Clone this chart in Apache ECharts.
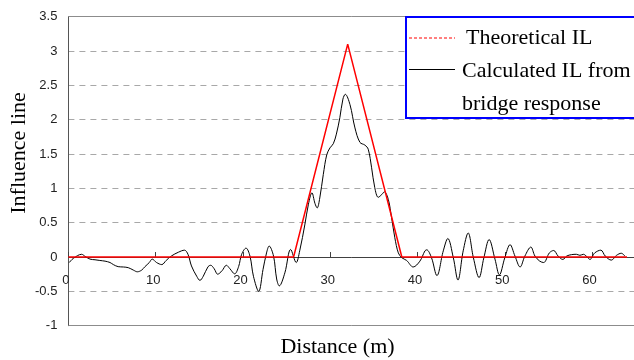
<!DOCTYPE html>
<html>
<head>
<meta charset="utf-8">
<script src="https://cdn.jsdelivr.net/npm/echarts@6/dist/echarts.min.js"></script>
<style>html,body{margin:0;padding:0;background:#fff;overflow:hidden;}#c{width:634px;height:360px;}</style>
</head>
<body>
<div id="c"></div>
<script>
// Theoretical influence line
const theoDistance = [0, 25.8, 32.0, 38.2, 64];
const theoIL = [0, 0, 3.1, 0, 0];

// Calculated influence line from bridge response
const calcDistance = [0.1, 0.56, 1.52, 1.9, 2.47, 3.05, 3.6, 4.2, 4.77, 5.15, 5.7, 6.3, 6.86, 7.44, 7.9, 8.4, 8.77, 9.27, 9.6, 10.1, 10.7, 11.2, 11.8, 12.6, 13.3, 13.7, 14.1, 14.7, 15.07, 15.45, 16.0, 16.3, 16.7, 17.1, 17.6, 18.1, 18.5, 19.05, 19.5, 19.85, 20.35, 20.8, 21.2, 21.8, 22.3, 22.7, 23.0, 23.5, 23.86, 24.16, 24.8, 25.46, 26.1, 26.5, 27.1, 27.5, 27.9, 28.25, 28.5, 28.8, 29.2, 29.6, 29.97, 30.35, 30.7, 31.1, 31.45, 31.72, 32.26, 32.83, 33.4, 33.97, 34.35, 34.74, 35.1, 35.5, 35.9, 36.2, 36.65, 37.03, 37.4, 37.8, 38.2, 38.75, 39.5, 40.27, 40.85, 41.05, 41.6, 42.22, 42.95, 43.47, 44.1, 44.63, 45.23, 45.8, 46.4, 47.05, 47.6, 48.2, 48.87, 49.38, 50.0, 50.6, 51.16, 51.75, 52.3, 52.98, 53.45, 54.0, 54.45, 55.1, 55.6, 56.1, 56.65, 57.1, 57.65, 58.2, 58.6, 59.0, 59.4, 59.75, 60.3, 61.0, 61.5, 62.2, 62.8, 63.35, 63.75];
const calcIL = [-0.08, -0.02, 0.04, 0.01, -0.03, -0.04, -0.05, -0.06, -0.08, -0.11, -0.14, -0.145, -0.155, -0.19, -0.215, -0.19, -0.14, -0.08, -0.03, -0.08, -0.11, -0.05, 0.015, 0.07, 0.10, 0.04, -0.13, -0.28, -0.34, -0.28, -0.14, -0.12, -0.17, -0.25, -0.2, -0.12, -0.17, -0.245, -0.14, 0.04, 0.13, 0.015, -0.28, -0.50, -0.18, 0.06, 0.16, 0.015, -0.32, -0.42, -0.23, 0.11, -0.08, 0.09, 0.48, 0.77, 0.935, 0.78, 0.715, 0.86, 1.20, 1.49, 1.59, 1.65, 1.79, 2.03, 2.30, 2.37, 2.22, 1.88, 1.67, 1.63, 1.57, 1.30, 1.01, 0.87, 0.91, 0.95, 0.84, 0.57, 0.28, 0.06, -0.01, -0.05, -0.145, -0.06, 0.09, 0.105, -0.01, -0.27, 0.09, 0.27, -0.01, -0.335, 0.09, 0.35, -0.01, -0.30, -0.01, 0.255, -0.03, -0.26, -0.01, 0.18, 0.015, -0.145, 0.015, 0.145, 0.015, -0.06, -0.08, 0.06, 0.095, 0.015, -0.035, 0.015, 0.035, 0.04, 0.025, 0.04, 0.005, -0.035, 0.06, 0.10, 0.015, -0.045, 0.025, 0.055, 0.015];

// Axis ticks
const xTicks = [0, 10, 20, 30, 40, 50, 60];
const yTicks = [-1, -0.5, 0, 0.5, 1, 1.5, 2, 2.5, 3, 3.5];
const frameLevels = [3.5, -1];

const chart = echarts.init(document.getElementById('c'), null, {renderer: 'canvas'});
const serif = '"Liberation Serif", "Times New Roman", serif';
const sans = '"Liberation Sans", Arial, sans-serif';

chart.setOption({
  animation: false,
  backgroundColor: '#ffffff',
  grid: {left: 68.4, top: 16.7, bottom: 34.3, right: 0, show: false},
  xAxis: {
    type: 'value', min: 0, max: 64.8, interval: 10,
    axisLine: {onZero: true, lineStyle: {color: '#404040', width: 1}},
    axisTick: {show: true, inside: true, length: 5, lineStyle: {color: '#404040'}},
    axisLabel: {margin: -52, color: '#222', fontFamily: sans, fontSize: 13, showMaxLabel: false, padding: [0, 5, 0, 0],
      formatter: v => xTicks.includes(v) ? String(v) : ''},
    splitLine: {show: false}
  },
  yAxis: {
    type: 'value', min: -1, max: 3.5, interval: 0.5,
    axisLine: {show: true, onZero: false, lineStyle: {color: '#555', width: 1}},
    axisTick: {show: false},
    axisLabel: {margin: 11, color: '#222', fontFamily: sans, fontSize: 13,
      formatter: v => yTicks.includes(v) ? String(v) : ''},
    splitLine: {show: true, lineStyle: {color: '#a8a8a8', type: [6, 5], width: 1}}
  },
  series: [
    {
      name: 'Calculated IL from bridge response', type: 'line', smooth: 0.35, symbol: 'none',
      lineStyle: {color: '#000', width: 1}, z: 3,
      data: calcDistance.map((d, i) => [d, calcIL[i]]),
      markLine: {
        silent: true, symbol: 'none', label: {show: false}, animation: false,
        lineStyle: {color: '#8c8c8c', type: 'solid', width: 1},
        data: frameLevels.map(v => ({yAxis: v}))
      }
    },
    {
      name: 'Theoretical IL', type: 'line', symbol: 'none',
      lineStyle: {color: '#ff0000', width: 1.5}, z: 4,
      data: theoDistance.map((d, i) => [d, theoIL[i]])
    }
  ],
  graphic: [
    {type: 'text', x: 19, y: 153, rotation: Math.PI / 2, z: 10,
      style: {text: 'Influence line', font: '22px ' + serif, fill: '#000', align: 'center', verticalAlign: 'middle'}},
    {type: 'text', x: 337.5, y: 347, z: 10,
      style: {text: 'Distance (m)', font: '22px ' + serif, fill: '#000', align: 'center', verticalAlign: 'middle'}},
    {type: 'rect', shape: {x: 406, y: 17, width: 260, height: 101}, z: 20,
      style: {fill: '#fff', stroke: '#0000ff', lineWidth: 2}},
    {type: 'line', shape: {x1: 409, y1: 38, x2: 455, y2: 38}, z: 21,
      style: {stroke: '#ff0000', lineWidth: 1, lineDash: [3, 2]}},
    {type: 'text', x: 466, y: 38, z: 21,
      style: {text: 'Theoretical IL', font: '22px ' + serif, fill: '#000', verticalAlign: 'middle'}},
    {type: 'line', shape: {x1: 409, y1: 69.5, x2: 455, y2: 69.5}, z: 21,
      style: {stroke: '#000', lineWidth: 1}},
    {type: 'text', x: 462, y: 71, z: 21,
      style: {text: 'Calculated IL from', font: '22px ' + serif, fill: '#000', verticalAlign: 'middle'}},
    {type: 'text', x: 462, y: 104, z: 21,
      style: {text: 'bridge response', font: '22px ' + serif, fill: '#000', verticalAlign: 'middle'}}
  ]
});
</script>
</body>
</html>
